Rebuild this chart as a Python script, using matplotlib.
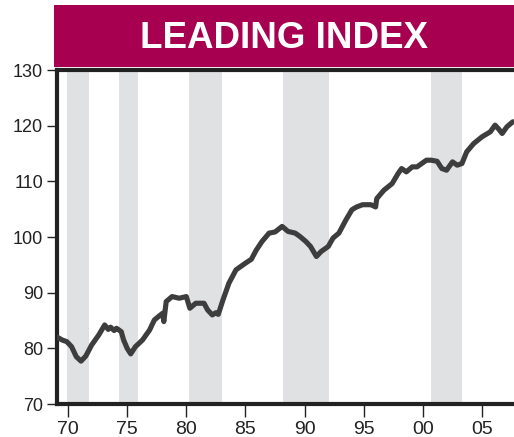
import matplotlib.pyplot as plt
from matplotlib.patches import Rectangle

plt.rcParams['font.family'] = ['Liberation Sans', 'DejaVu Sans']

# leading index (year, index level)
years = [1969.1, 1969.5, 1969.9, 1970.3, 1970.7, 1971.1, 1971.5, 1972.0, 1972.6,
         1973.1, 1973.4, 1973.6, 1973.9, 1974.1, 1974.5, 1974.7, 1975.0, 1975.3,
         1975.7, 1976.3, 1976.9, 1977.3, 1977.7, 1978.0, 1978.1, 1978.3, 1978.8,
         1979.4, 1980.0, 1980.3, 1980.8, 1981.5, 1981.8, 1982.2, 1982.5, 1982.7,
         1983.1, 1983.6, 1984.2, 1985.0, 1985.5, 1985.9, 1986.4, 1987.0,
         1987.5, 1988.1, 1988.6, 1989.2, 1989.6, 1990.1, 1990.5, 1991.0, 1991.4,
         1992.0, 1992.4, 1992.9, 1993.5, 1994.0, 1994.4, 1994.9, 1995.6, 1996.0,
         1996.1, 1996.7, 1997.4, 1997.9, 1998.2, 1998.6, 1999.1, 1999.5, 1999.9,
         2000.3, 2000.7, 2001.2, 2001.6, 2002.0, 2002.5, 2002.9, 2003.3, 2003.7,
         2004.3, 2005.0, 2005.7, 2006.1, 2006.4, 2006.7, 2007.1, 2007.6]
index = [82.0, 81.5, 81.2, 80.3, 78.5, 77.7, 78.6, 80.6, 82.4,
         84.2, 83.4, 83.8, 83.2, 83.6, 83.0, 81.5, 80.0, 79.0,
         80.3, 81.5, 83.3, 85.1, 85.8, 86.3, 84.8, 88.4, 89.3,
         89.0, 89.3, 87.2, 88.1, 88.1, 86.9, 86.0, 86.4, 86.1,
         88.7, 91.7, 94.1, 95.3, 96.0, 97.6, 99.2, 100.7,
         100.9, 101.9, 101.0, 100.7, 100.1, 99.2, 98.3, 96.5, 97.4,
         98.3, 99.8, 100.7, 103.1, 104.9, 105.4, 105.8, 105.8, 105.4,
         106.9, 108.4, 109.6, 111.4, 112.3, 111.7, 112.6, 112.6, 113.2,
         113.8, 113.8, 113.6, 112.3, 112.0, 113.5, 112.9, 113.2, 115.3,
         116.8, 118.0, 118.9, 120.1, 119.4, 118.6, 119.8, 120.7]

# recession bands (start, end)
band_start = [1969.9, 1974.3, 1980.2, 1988.2, 2000.7]
band_end = [1971.8, 1975.9, 1983.05, 1992.1, 2003.3]

tick_years = [1970, 1975, 1980, 1985, 1990, 1995, 2000, 2005]
tick_labels = ['70', '75', '80', '85', '90', '95', '00', '05']
yticks = [70, 80, 90, 100, 110, 120, 130]

fig = plt.figure(figsize=(5.14, 4.37), dpi=100)
ax = fig.add_axes([57 / 514, 1 - 404 / 437, 1 - 57 / 514, (404 - 70) / 437])

for s, e in zip(band_start, band_end):
    ax.axvspan(s, e, color='#e0e1e3', lw=0, zorder=0)

ax.plot(years, index, color='#3d3d3d', lw=3.7, solid_capstyle='round',
        solid_joinstyle='round', zorder=3)

ax.set_xlim(1969.07, 2007.7)
ax.set_ylim(70, 130)
ax.set_xticks(tick_years)
ax.set_xticklabels(tick_labels)
ax.set_yticks(yticks)

for side in ['left', 'bottom', 'top']:
    ax.spines[side].set_linewidth(3)
    ax.spines[side].set_color('#222222')
ax.spines['right'].set_visible(False)

ax.tick_params(axis='y', labelsize=13, colors='#222222', width=1,
               length=7, pad=3)
ax.tick_params(axis='x', labelsize=14, colors='#222222', width=1,
               length=9, pad=3)

# title banner
fig.add_artist(Rectangle((54 / 514, 1 - 67 / 437), 1 - 54 / 514, 62 / 437,
                         transform=fig.transFigure, facecolor='#a80050',
                         edgecolor='none'))
fig.text((54 + 514) / 2 / 514, 1 - 39 / 437, 'LEADING INDEX', color='white',
         fontsize=26.5, fontweight='bold', ha='center', va='center')

fig.savefig('out.png', dpi=100)
